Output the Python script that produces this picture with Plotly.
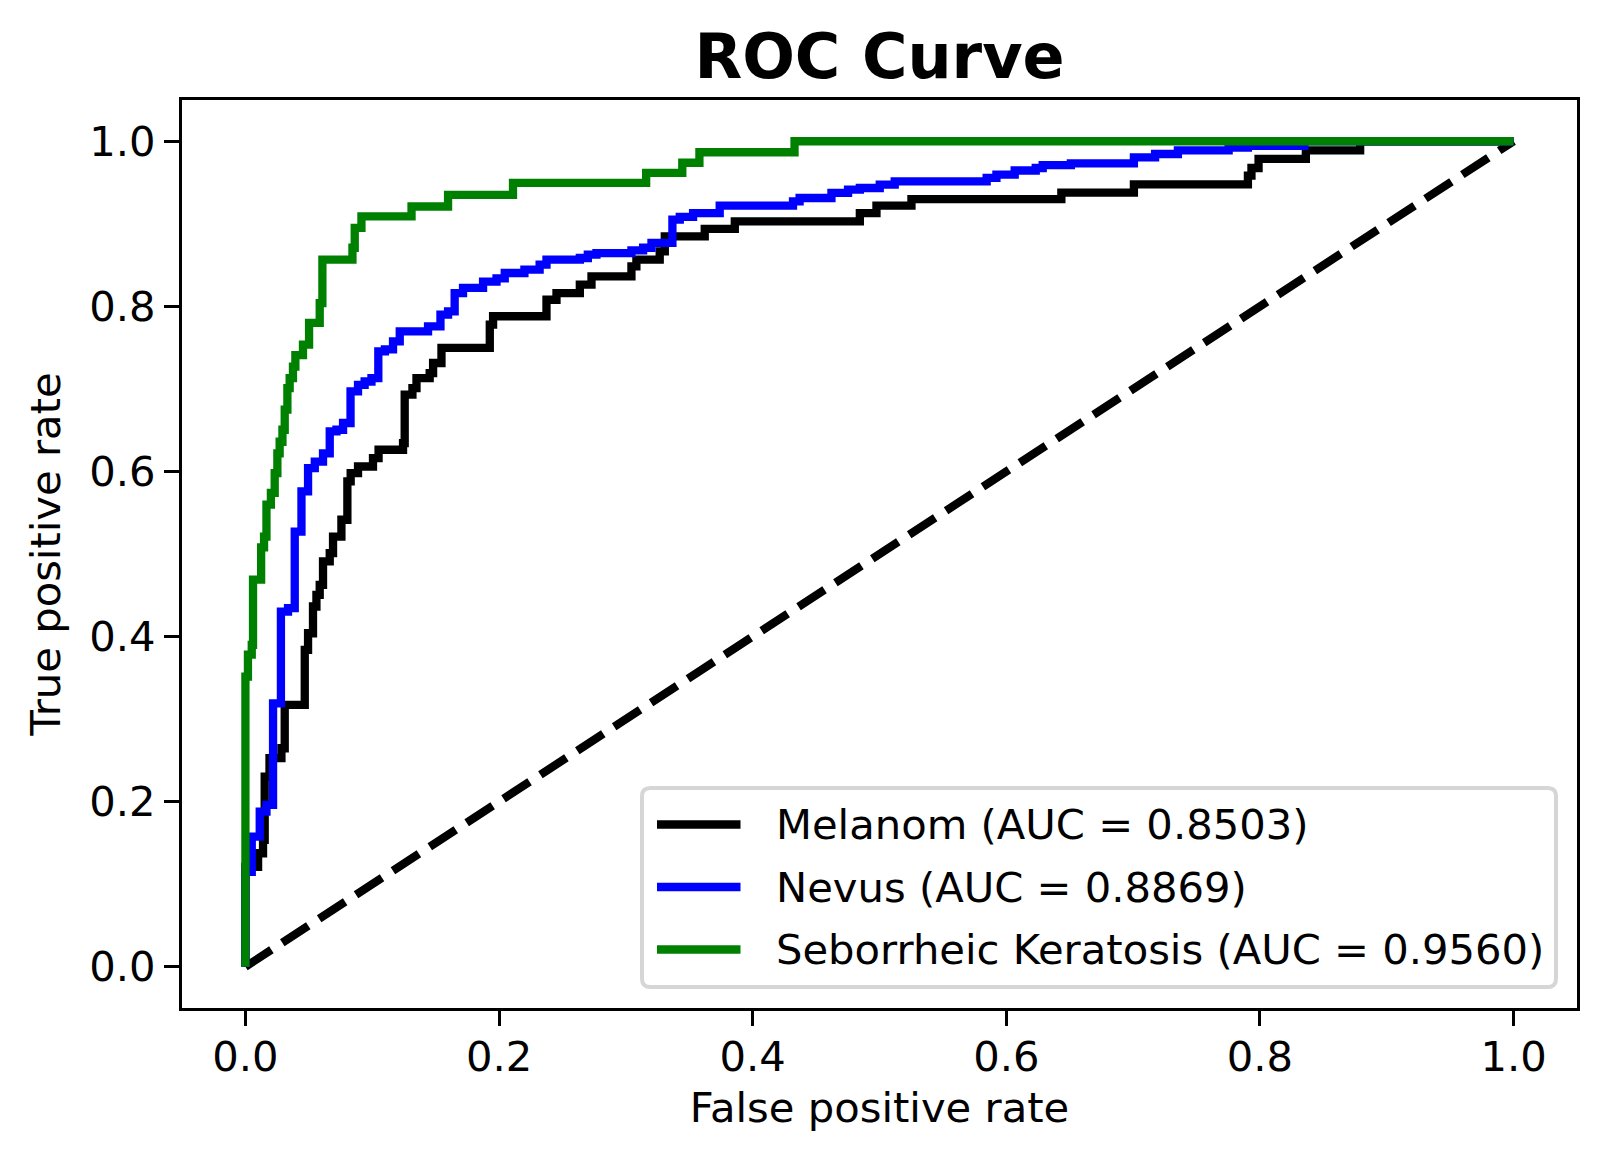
import plotly.graph_objects as go

# ROC points (corner of every step: x of the riser, top of the riser)
melanom_fpr = [0.0, 0.0, 0.010, 0.0139, 0.0152, 0.019, 0.0284, 0.031, 0.0468, 0.0494,
               0.0533, 0.056, 0.0586, 0.0612, 0.0665, 0.0691, 0.0757, 0.0804, 0.083, 0.0888,
               0.1006, 0.105, 0.1243, 0.1256, 0.1317, 0.1349, 0.1453, 0.148, 0.1546, 0.1927,
               0.1953, 0.2374, 0.2453, 0.2637, 0.2729, 0.3044, 0.3083, 0.3267, 0.3307, 0.3622,
               0.3859, 0.4845, 0.4976, 0.5252, 0.6434, 0.7006, 0.7905, 0.7933, 0.7989, 0.8362,
               0.879, 1.0]
melanom_tpr = [0.0, 0.121, 0.1375, 0.1536, 0.2303, 0.2526, 0.2647, 0.3172, 0.3839, 0.404,
               0.4364, 0.4505, 0.4627, 0.491, 0.501, 0.521, 0.5415, 0.588, 0.598, 0.606,
               0.6162, 0.6263, 0.6344, 0.693, 0.701, 0.713, 0.7192, 0.7314, 0.7496, 0.7778,
               0.788, 0.808, 0.816, 0.8263, 0.8364, 0.8485, 0.8566, 0.8667, 0.8849, 0.8938,
               0.903, 0.913, 0.922, 0.930, 0.9378, 0.9477, 0.9583, 0.9676, 0.9787, 0.9889,
               1.0, 1.0]

nevus_fpr = [0.0, 0.0, 0.005, 0.0113, 0.0166, 0.0218, 0.028, 0.0336, 0.0389, 0.0442,
             0.0494, 0.0547, 0.0612, 0.0665, 0.0718, 0.077, 0.0829, 0.0888, 0.094, 0.0994,
             0.1048, 0.11, 0.1164, 0.1217, 0.144, 0.1538, 0.1598, 0.165, 0.1716, 0.1874,
             0.198, 0.2045, 0.22, 0.232, 0.2374, 0.2637, 0.270, 0.2768, 0.3044, 0.3136,
             0.3202, 0.3367, 0.3425, 0.353, 0.374, 0.4318, 0.437, 0.4621, 0.4752, 0.4845,
             0.5002, 0.512, 0.5845, 0.5922, 0.6066, 0.6232, 0.6287, 0.6509, 0.7006, 0.7173,
             0.7353, 0.7753, 0.7905, 0.835, 1.0]
nevus_tpr = [0.0, 0.115, 0.1576, 0.188, 0.196, 0.319, 0.4303, 0.4344, 0.527, 0.5758,
             0.604, 0.612, 0.622, 0.6485, 0.6505, 0.6587, 0.697, 0.705, 0.709, 0.713,
             0.7455, 0.748, 0.7576, 0.7697, 0.7758, 0.79, 0.794, 0.816, 0.8223, 0.830,
             0.834, 0.8404, 0.8444, 0.8505, 0.8566, 0.8586, 0.8626, 0.8646, 0.8678, 0.871,
             0.877, 0.9051, 0.9083, 0.913, 0.922, 0.9273, 0.9313, 0.9374, 0.9414, 0.9434,
             0.9475, 0.9515, 0.9556, 0.9596, 0.9646, 0.9676, 0.971, 0.9732, 0.9804, 0.9846,
             0.9889, 0.9922, 0.9944, 1.0, 1.0]

sk_fpr = [0.0, 0.0, 0.002, 0.005, 0.006, 0.0124, 0.0147, 0.0166, 0.0201, 0.0231,
          0.0252, 0.027, 0.0292, 0.031, 0.0331, 0.0349, 0.0375, 0.0394, 0.0454, 0.0502,
          0.0586, 0.0607, 0.0844, 0.0862, 0.0915, 0.131, 0.1598, 0.211, 0.316, 0.3445,
          0.358, 0.433, 1.0]
sk_tpr = [0.0, 0.3515, 0.378, 0.39, 0.469, 0.508, 0.521, 0.5597, 0.574, 0.598,
          0.622, 0.636, 0.6505, 0.675, 0.701, 0.713, 0.727, 0.741, 0.7536, 0.78,
          0.804, 0.8566, 0.871, 0.895, 0.909, 0.921, 0.935, 0.9495, 0.9617, 0.974,
          0.9867, 1.0, 1.0]

names = ["Melanom (AUC = 0.8503)", "Nevus (AUC = 0.8869)", "Seborrheic Keratosis (AUC = 0.9560)"]
colors = ["black", "blue", "green"]
tick_vals = [0.0, 0.2, 0.4, 0.6, 0.8, 1.0]
tick_text = ["0.0", "0.2", "0.4", "0.6", "0.8", "1.0"]

FONT = "DejaVu Sans"
FS = 41.7          # 10 pt at 300 dpi
LW = 8.3           # 2 pt lines
PAGE = 8           # the html body margin shifts the figure by this much
W, H = 1607 - PAGE, 1163 - PAGE
# plot area in page pixels
PL, PT, PW, PH = 182, 100, 1395, 908


def px_x(p):
    return -0.05 + (p - PL) / PW * 1.1


def px_y(p):
    return 1.05 - (p - PT) / PH * 1.1


fig = go.Figure()
# chance line first so the curves sit on top of it
fig.add_trace(go.Scatter(x=[0, 1], y=[0, 1], mode="lines", showlegend=False,
                         line={"color": "black", "width": LW, "dash": "31px,13px"}))
for fpr, tpr, name, col in zip([melanom_fpr, nevus_fpr, sk_fpr], [melanom_tpr, nevus_tpr, sk_tpr],
                               names, colors):
    fig.add_trace(go.Scatter(x=fpr, y=tpr, mode="lines", name=name, showlegend=False,
                             line={"color": col, "width": LW, "shape": "hv"}))

# matplotlib-style legend box in the lower right corner
bl, br, bt, bb, rad = 642, 1556, 788, 987, 8.3
box = (f"M {px_x(bl + rad)},{px_y(bt)} L {px_x(br - rad)},{px_y(bt)} "
       f"Q {px_x(br)},{px_y(bt)} {px_x(br)},{px_y(bt + rad)} "
       f"L {px_x(br)},{px_y(bb - rad)} Q {px_x(br)},{px_y(bb)} {px_x(br - rad)},{px_y(bb)} "
       f"L {px_x(bl + rad)},{px_y(bb)} Q {px_x(bl)},{px_y(bb)} {px_x(bl)},{px_y(bb - rad)} "
       f"L {px_x(bl)},{px_y(bt + rad)} Q {px_x(bl)},{px_y(bt)} {px_x(bl + rad)},{px_y(bt)} Z")
fig.add_shape(type="path", path=box, xref="x", yref="y", fillcolor="white",
              line={"color": "#d6d6d6", "width": 4})
for i, (name, col) in enumerate(zip(names, colors)):
    yc = 824.5 + i * 62.5
    fig.add_shape(type="line", xref="x", yref="y", x0=px_x(657), x1=px_x(740.5),
                  y0=px_y(yc), y1=px_y(yc), line={"color": col, "width": LW})
    fig.add_annotation(x=px_x(774), y=px_y(yc), xref="x", yref="y", text=name,
                       showarrow=False, xanchor="left", yanchor="middle",
                       font={"family": FONT, "size": FS, "color": "black"})

axis_common = dict(range=[-0.05, 1.05], tickvals=tick_vals, ticktext=tick_text,
                   showgrid=False, zeroline=False, showline=True, mirror=True,
                   linecolor="black", linewidth=3.3, ticks="outside", ticklen=15,
                   tickwidth=3.3, tickcolor="black",
                   tickfont={"family": FONT, "size": FS, "color": "black"})
fig.update_xaxes(**axis_common, ticklabelstandoff=-5,
                 title={"text": "False positive rate", "standoff": 13,
                        "font": {"family": FONT, "size": FS, "color": "black"}})
fig.update_yaxes(**axis_common,
                 title={"text": "True positive rate", "standoff": 16,
                        "font": {"family": FONT, "size": FS, "color": "black"}})

fig.update_layout(
    width=W, height=H,
    margin={"l": PL - PAGE, "r": W - (PL - PAGE) - PW, "t": PT - PAGE,
            "b": H - (PT - PAGE) - PH, "autoexpand": False},
    paper_bgcolor="white", plot_bgcolor="white",
    title={"text": "<b>ROC Curve</b>", "x": 0.5, "xref": "paper", "xanchor": "center",
           "y": 1 - 48 / H, "yanchor": "middle", "yref": "container",
           "font": {"family": FONT, "size": 62, "color": "black"}},
    showlegend=False,
)

fig.write_html("out.html")
